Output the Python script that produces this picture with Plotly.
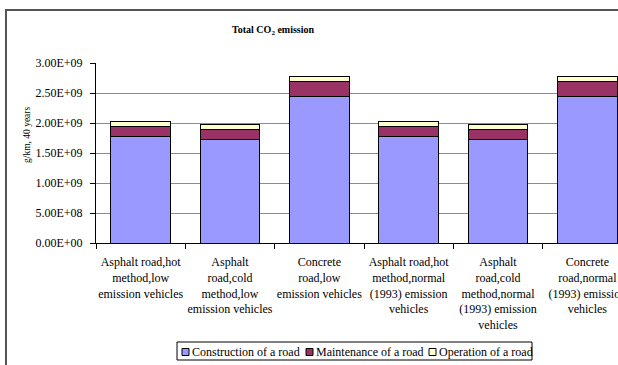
import plotly.graph_objects as go

# Road variants (x categories)
categories = [
    "Asphalt road,hot<br>method,low<br>emission vehicles",
    "Asphalt<br>road,cold<br>method,low<br>emission vehicles",
    "Concrete<br>road,low<br>emission vehicles",
    "Asphalt road,hot<br>method,normal<br>(1993) emission<br>vehicles",
    "Asphalt<br>road,cold<br>method,normal<br>(1993) emission<br>vehicles",
    "Concrete<br>road,normal<br>(1993) emission<br>vehicles",
]

# CO2 emission, g/km over 40 years
construction = [1.78e9, 1.72e9, 2.44e9, 1.78e9, 1.72e9, 2.44e9]
maintenance = [0.17e9, 0.18e9, 0.26e9, 0.17e9, 0.18e9, 0.26e9]
operation = [0.08e9, 0.07e9, 0.08e9, 0.08e9, 0.07e9, 0.08e9]

series_names = ["Construction of a road", "Maintenance of a road", "Operation of a road"]
series_colors = ["#9999FF", "#993366", "#FFFFCC"]

y_ticks = [0, 5e8, 1e9, 1.5e9, 2e9, 2.5e9, 3e9]
y_ticktext = [f"{v:.2E}" for v in y_ticks]

FONT = "Times New Roman, Liberation Serif, DejaVu Serif, serif"
W, H = 618, 365
ML, MT, MB = 96, 63, 122
PW = W - ML
PH = H - MT - MB


def px_x(x):
    return (x - ML) / PW


def px_y(y):
    return (H - MB - y) / PH


fig = go.Figure()
for name, vals, col in zip(series_names, [construction, maintenance, operation], series_colors):
    fig.add_trace(go.Bar(
        x=categories, y=vals, name=name, showlegend=False,
        marker=dict(color=col, line=dict(color="black", width=1)),
    ))

# Boxed legend row below the axis
legend_box = dict(x0=177, x1=532, y0=342, y1=360)
legend_swatch_x = [182, 306, 429]
legend_text_x = [190, 314, 437]
legend_mid_y = 352

shapes = [
    # outer chart frame
    dict(type="rect", xref="paper", yref="paper",
         x0=px_x(6), x1=px_x(W + 20), y0=px_y(H + 20), y1=px_y(10),
         line=dict(color="#555555", width=2), fillcolor="rgba(0,0,0,0)", layer="below"),
    dict(type="rect", xref="paper", yref="paper",
         x0=px_x(legend_box["x0"]), x1=px_x(legend_box["x1"]),
         y0=px_y(legend_box["y1"]), y1=px_y(legend_box["y0"]),
         line=dict(color="black", width=1), fillcolor="white"),
]
annotations = [
    dict(text="<b>Total CO<sub>2</sub> emission</b>", xref="paper", yref="paper",
         x=px_x(273), y=px_y(30), xanchor="center", yanchor="middle", showarrow=False,
         font=dict(family=FONT, size=10)),
    dict(text="g/km, 40 years", xref="paper", yref="paper",
         x=px_x(27), y=px_y(135), xanchor="center", yanchor="middle", showarrow=False,
         textangle=-90, font=dict(family=FONT, size=9.5)),
]
for name, col, sx, tx in zip(series_names, series_colors, legend_swatch_x, legend_text_x):
    shapes.append(dict(type="rect", xref="paper", yref="paper",
                       x0=px_x(sx), x1=px_x(sx + 7),
                       y0=px_y(legend_mid_y + 3.5), y1=px_y(legend_mid_y - 3.5),
                       line=dict(color="black", width=1), fillcolor=col))
    annotations.append(dict(text=name, xref="paper", yref="paper",
                            x=px_x(tx), y=px_y(legend_mid_y), xanchor="left", yanchor="middle",
                            showarrow=False, font=dict(family=FONT, size=12)))

fig.update_layout(
    width=W, height=H,
    margin=dict(l=ML, r=0, t=MT, b=MB, autoexpand=False),
    barmode="stack",
    bargap=0.33,
    paper_bgcolor="white",
    plot_bgcolor="white",
    font=dict(family=FONT, size=12, color="black"),
    showlegend=False,
    xaxis=dict(
        range=[-0.5, 5.343],
        showline=True, linecolor="black", linewidth=1,
        ticks="outside", ticklen=5, tickcolor="black",
        tickson="boundaries", tickangle=0, ticklabelstandoff=8,
        showgrid=False, automargin=False,
        tickfont=dict(family=FONT, size=12),
    ),
    yaxis=dict(
        range=[0, 3e9],
        tickvals=y_ticks, ticktext=y_ticktext,
        showline=True, linecolor="black", linewidth=1,
        ticks="outside", ticklen=5, tickcolor="black", ticklabelstandoff=5,
        showgrid=True, gridcolor="#8c8c8c", gridwidth=1,
        zeroline=False, automargin=False,
        tickfont=dict(family=FONT, size=12),
    ),
    annotations=annotations,
    shapes=shapes,
)

fig.write_html("out.html")
